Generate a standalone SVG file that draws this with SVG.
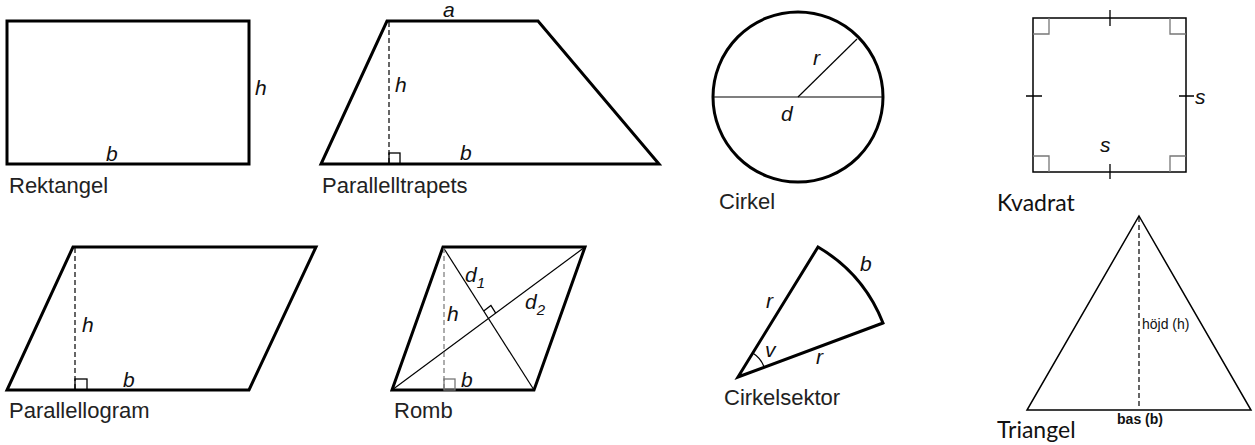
<svg xmlns="http://www.w3.org/2000/svg" width="1255" height="445" viewBox="0 0 1255 445">
<style>
.thick{fill:none;stroke:#000;stroke-width:3;stroke-linejoin:miter}
.thin{fill:none;stroke:#000;stroke-width:1.2}
.dash{fill:none;stroke:#000;stroke-width:1.2;stroke-dasharray:5 3}
.ra{fill:none;stroke:#000;stroke-width:1.3}
.grey{fill:none;stroke:#777;stroke-width:1.3}
.lbl{font-family:"Liberation Sans",Arial,sans-serif;font-size:22px;fill:#222}
.var{font-family:"Liberation Sans",Arial,sans-serif;font-size:21px;font-style:italic;fill:#111}
.lbl2{font-family:Lato,"Open Sans",sans-serif;font-size:23px;fill:#111}
.small{font-family:"Liberation Sans",Arial,sans-serif;font-size:14px;fill:#111}
</style>
<rect width="1255" height="445" fill="#fff"/>
<g id="rektangel">
<rect class="thick" x="7" y="21" width="242" height="143"/>
<text class="var" x="255" y="95">h</text>
<text class="var" x="106" y="161">b</text>
<text class="lbl" x="9" y="193">Rektangel</text>
</g>
<g id="parallelltrapets">
<polygon class="thick" points="387,21 538,21 659,164 321,164"/>
<line class="dash" x1="389" y1="22" x2="389" y2="163"/>
<rect class="ra" x="389" y="153" width="11" height="11"/>
<text class="var" x="443" y="17" font-size="20">a</text>
<text class="var" x="395" y="92">h</text>
<text class="var" x="460" y="160">b</text>
<text class="lbl" x="322" y="193">Parallelltrapets</text>
</g>
<g id="cirkel">
<circle class="thick" cx="798" cy="97" r="85"/>
<line class="thin" x1="713" y1="97" x2="883" y2="97"/>
<line class="thin" x1="798" y1="97" x2="857" y2="39"/>
<text class="var" x="813" y="65">r</text>
<text class="var" x="781" y="121">d</text>
<text class="lbl" x="719" y="209">Cirkel</text>
</g>
<g id="kvadrat">
<rect x="1033" y="18" width="153" height="154" fill="none" stroke="#000" stroke-width="1.5"/>
<path class="grey" d="M1033,34 H1049 V18 M1170,18 V34 H1186 M1033,156 H1049 V172 M1170,172 V156 H1186"/>
<path fill="none" stroke="#000" stroke-width="1.3" d="M1110,10 V26 M1110,164 V179 M1026,96 H1042 M1179,96 H1194"/>
<text class="var" x="1195" y="104">s</text>
<text class="var" x="1100" y="152">s</text>
<text class="lbl2" x="997" y="211">Kvadrat</text>
</g>
<g id="parallellogram">
<polygon class="thick" points="73,247 316,247 249,390 7,390"/>
<line class="dash" x1="75" y1="248" x2="75" y2="389"/>
<rect class="ra" x="75" y="379" width="12" height="11"/>
<text class="var" x="82" y="332">h</text>
<text class="var" x="123" y="387">b</text>
<text class="lbl" x="9" y="418">Parallellogram</text>
</g>
<g id="romb">
<polygon class="thick" points="443,247 585,247 534,390 392,390"/>
<line class="thin" x1="443" y1="247" x2="534" y2="390"/>
<line class="thin" x1="392" y1="390" x2="585" y2="247"/>
<line x1="444" y1="248" x2="444" y2="389" stroke="#777" stroke-width="1.2" stroke-dasharray="5 3"/>
<rect class="grey" x="444" y="379" width="11" height="11"/>
<path class="ra" d="M483.7,310.9 L490.9,305.5 L495.7,313.1"/>
<text class="var" x="465" y="282">d<tspan font-size="15" dy="6">1</tspan></text>
<text class="var" x="525" y="309">d<tspan font-size="15" dy="6">2</tspan></text>
<text class="var" x="447" y="321">h</text>
<text class="var" x="461" y="387">b</text>
<text class="lbl" x="394" y="418">Romb</text>
</g>
<g id="cirkelsektor">
<path class="thick" d="M883,323 L738,377 L818,247 A153,153 0 0 1 883,323 Z" stroke-width="2.6"/>
<path class="thin" d="M752.7,353.1 A28,28 0 0 1 764.2,367.2"/>
<text class="var" x="766" y="308">r</text>
<text class="var" x="765" y="357">v</text>
<text class="var" x="816" y="364">r</text>
<text class="var" x="860" y="271">b</text>
<text class="lbl" x="724" y="405">Cirkelsektor</text>
</g>
<g id="triangel">
<polygon points="1139,216 1251,410 1027,410" fill="none" stroke="#000" stroke-width="1.5"/>
<line x1="1139" y1="217" x2="1139" y2="409" stroke="#000" stroke-width="1.2" stroke-dasharray="5 3"/>
<text class="small" x="1142" y="329">höjd (h)</text>
<text class="small" x="1140" y="424" font-weight="bold" text-anchor="middle">bas (b)</text>
<text class="lbl2" x="997" y="438">Triangel</text>
</g>
</svg>
